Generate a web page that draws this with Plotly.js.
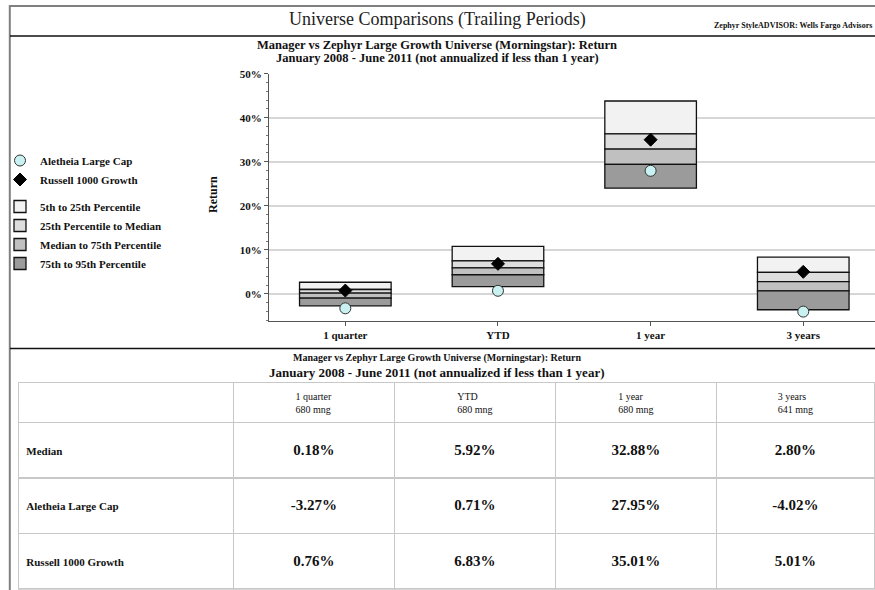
<!DOCTYPE html>
<html>
<head>
<meta charset="utf-8">
<script src="https://cdn.plot.ly/plotly-3.0.1.min.js"></script>
<style>html,body{margin:0;padding:0;background:#fff;}#chart{width:875px;height:590px;}</style>
</head>
<body>
<div id="chart"></div>
<script>
// ---- data ----
const periods = ["1 quarter", "YTD", "1 year", "3 years"];
const universeCounts = ["680 mng", "680 mng", "680 mng", "641 mng"];
const pct05 = [2.65, 10.8, 43.8, 8.35];
const pct25 = [1.0, 7.5, 36.35, 4.9];
const median = [0.18, 5.92, 32.88, 2.80];
const pct75 = [-0.95, 4.35, 29.4, 0.7];
const pct95 = [-2.7, 1.65, 24.0, -3.6];
const aletheia = [-3.27, 0.71, 27.95, -4.02];
const russell = [0.76, 6.83, 35.01, 5.01];
const rowLabels = ["Median", "Aletheia Large Cap", "Russell 1000 Growth"];
const yTicks = [0, 10, 20, 30, 40, 50];
const bandNames = ["5th to 25th Percentile", "25th Percentile to Median", "Median to 75th Percentile", "75th to 95th Percentile"];
const bandColors = ["#f2f2f2", "#dedede", "#c0c0c0", "#9b9b9b"];

// ---- helpers ----
const W = 875, H = 590;
const px = v => v / W;
const py = v => 1 - v / H;
const SERIF = "Liberation Serif, Times New Roman, serif";
const fmt = v => v.toFixed(2) + "%";
const SP = "\u00a0<br>";
const big = s => SP + '<span style="font-size:15px">' + s + "</span>";

// bands: [upper, lower]
const bands = [[pct05, pct25], [pct25, median], [median, pct75], [pct75, pct95]];

const traces = [];
traces.push({
  type: "scatter", mode: "markers", name: "Aletheia Large Cap",
  x: periods, y: aletheia, legendgroup: "pts", legendrank: 1,
  marker: {symbol: "circle", size: 11, color: "#c9f1f1", line: {color: "#333", width: 1}},
  hoverinfo: "skip"
});
traces.push({
  type: "scatter", mode: "markers", name: "Russell 1000 Growth",
  x: periods, y: russell, legendgroup: "pts", legendrank: 2,
  marker: {symbol: "diamond", size: 10, color: "#000", line: {color: "#000", width: 1}},
  hoverinfo: "skip"
});
bands.forEach((b, i) => {
  traces.push({
    type: "bar", name: bandNames[i], x: periods,
    base: b[1], y: b[0].map((v, k) => v - b[1][k]),
    width: 0.6, legendgroup: "bands", legendrank: 3 + i,
    marker: {color: bandColors[i], line: {color: "#111", width: 1.3}},
    hoverinfo: "skip"
  });
});
const drawOrder = traces.slice(2).concat(traces.slice(0, 2));

const tableTrace = {
  type: "table",
  domain: {x: [px(18.3), 1], y: [0, py(382.7)]},
  columnwidth: [215, 161, 161, 161, 158],
  header: {
    values: [""].concat(periods.map((p, i) => p + "<br>" + universeCounts[i])),
    height: 40,
    align: "center",
    line: {color: "#c8c8c8", width: 1.5},
    fill: {color: "#fff"},
    font: {family: SERIF, size: 10, color: "#111"}
  },
  cells: {
    values: [rowLabels.map(s => SP + s)].concat(periods.map((p, i) => [median[i], aletheia[i], russell[i]].map(v => big(fmt(v))))),
    height: 55.5,
    align: ["left", "center", "center", "center", "center"],
    line: {color: "#c8c8c8", width: 1.5},
    fill: {color: "#fff"},
    font: {family: SERIF, size: 11, color: "#111", weight: "bold"}
  }
};

const layout = {
  width: W, height: H,
  margin: {l: 0, r: 0, t: 0, b: 0, autoexpand: false},
  paper_bgcolor: "#fff", plot_bgcolor: "#fff",
  barmode: "overlay",
  showlegend: true,
  legend: {
    x: 0, y: py(146), xanchor: "left", yanchor: "top",
    bgcolor: "rgba(0,0,0,0)", tracegroupgap: 8,
    font: {family: SERIF, size: 11, color: "#111", weight: "bold"},
    traceorder: "grouped"
  },
  font: {family: SERIF, color: "#111"},
  xaxis: {
    domain: [px(269), 1], range: [-0.5, 3.47], type: "category",
    showline: true, linecolor: "#555", linewidth: 1,
    ticks: "outside", ticklen: 4, tickcolor: "#555",
    showgrid: false, automargin: false,
    tickfont: {family: SERIF, size: 11, color: "#111", weight: "bold"}
  },
  yaxis: {
    domain: [py(321), py(73.7)], range: [-6.15, 50],
    tickmode: "array", tickvals: yTicks, ticktext: yTicks.map(v => v + "%"),
    showline: true, linecolor: "#555", linewidth: 1,
    ticks: "outside", ticklen: 4, tickcolor: "#555",
    minor: {dtick: 2, tick0: 0, ticks: "outside", ticklen: 2, tickcolor: "#777", showgrid: false},
    showgrid: true, gridcolor: "#d6d6d6", gridwidth: 2,
    zeroline: false, automargin: false,
    tickfont: {family: SERIF, size: 11, color: "#111", weight: "bold"}
  },
  shapes: [
    {type: "line", xref: "paper", yref: "paper", x0: px(9.8), x1: px(9.8), y0: py(5), y1: 0, line: {color: "#808080", width: 2}},
    {type: "line", xref: "paper", yref: "paper", x0: px(9), x1: 1, y0: py(6), y1: py(6), line: {color: "#808080", width: 2}},
    {type: "line", xref: "paper", yref: "paper", x0: px(10), x1: 1, y0: py(36), y1: py(36), line: {color: "#111", width: 1.5}},
    {type: "line", xref: "paper", yref: "paper", x0: px(10), x1: 1, y0: py(348.5), y1: py(348.5), line: {color: "#111", width: 1.5}}
  ],
  annotations: [
    {text: "Universe Comparisons (Trailing Periods)", xref: "paper", yref: "paper", x: px(437), y: py(19), showarrow: false,
     font: {family: SERIF, size: 18, color: "#222"}, xanchor: "center", yanchor: "middle"},
    {text: "Zephyr StyleADVISOR: Wells Fargo Advisors", xref: "paper", yref: "paper", x: px(874), y: py(25), showarrow: false,
     font: {family: SERIF, size: 8, color: "#111", weight: "bold"}, xanchor: "right", yanchor: "middle"},
    {text: "Manager vs Zephyr Large Growth Universe (Morningstar): Return", xref: "paper", yref: "paper", x: px(437), y: py(45), showarrow: false,
     font: {family: SERIF, size: 12.5, color: "#111", weight: "bold"}, xanchor: "center", yanchor: "middle"},
    {text: "January 2008 - June 2011 (not annualized if less than 1 year)", xref: "paper", yref: "paper", x: px(437), y: py(58), showarrow: false,
     font: {family: SERIF, size: 12.5, color: "#111", weight: "bold"}, xanchor: "center", yanchor: "middle"},
    {text: "Return", xref: "paper", yref: "paper", x: px(213), y: py(195), showarrow: false, textangle: -90,
     font: {family: SERIF, size: 12, color: "#111", weight: "bold"}, xanchor: "center", yanchor: "middle"},
    {text: "Manager vs Zephyr Large Growth Universe (Morningstar): Return", xref: "paper", yref: "paper", x: px(437), y: py(358), showarrow: false,
     font: {family: SERIF, size: 10, color: "#111", weight: "bold"}, xanchor: "center", yanchor: "middle"},
    {text: "January 2008 - June 2011 (not annualized if less than 1 year)", xref: "paper", yref: "paper", x: px(437), y: py(372.5), showarrow: false,
     font: {family: SERIF, size: 13, color: "#111", weight: "bold"}, xanchor: "center", yanchor: "middle"}
  ]
};

Plotly.newPlot("chart", drawOrder.concat([tableTrace]), layout, {displayModeBar: false, staticPlot: true});
</script>
</body>
</html>
